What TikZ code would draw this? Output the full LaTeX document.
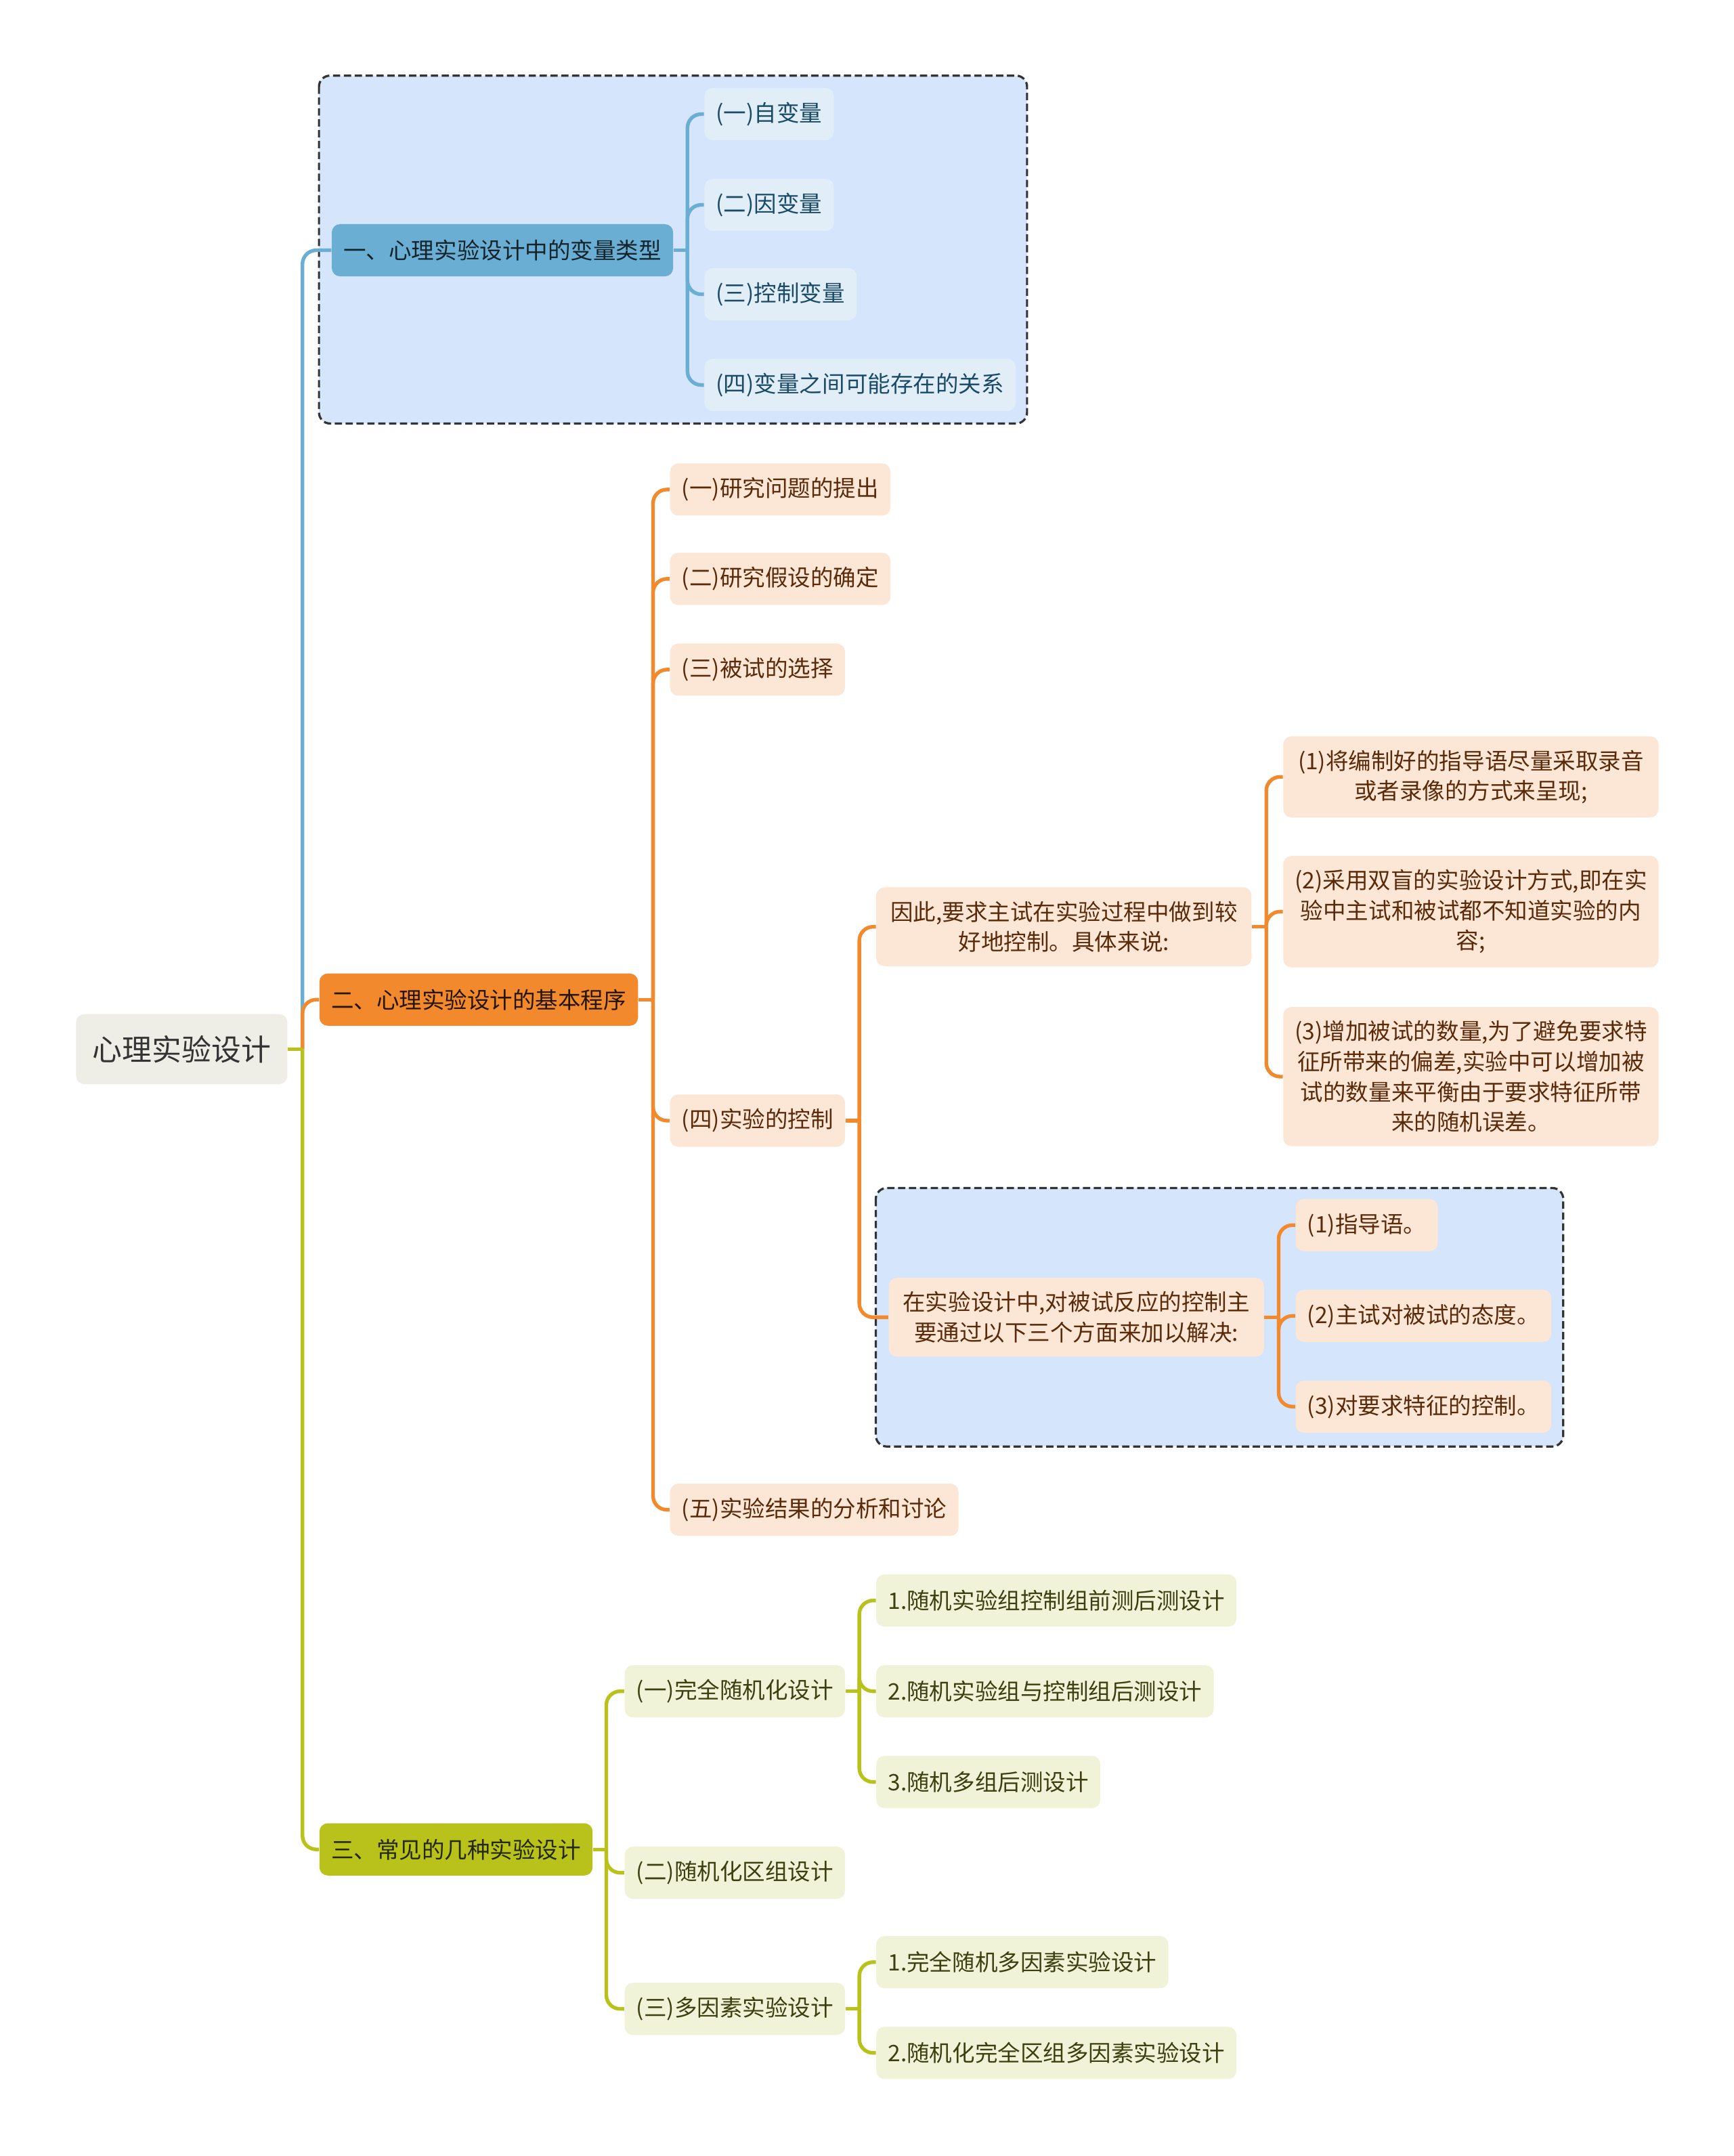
\documentclass[tikz,border=0pt]{standalone}
\usepackage{fontspec}
\setmainfont{Noto Sans CJK SC}
\usetikzlibrary{positioning}

\definecolor{bluemain}{HTML}{6AAFD3}
\definecolor{bluezone}{HTML}{D5E5FB}
\definecolor{bluefill}{HTML}{E1EEF8}
\definecolor{bluetext}{HTML}{1B4A66}
\definecolor{orangemain}{HTML}{F28A2D}
\definecolor{orangefill}{HTML}{FCE6D5}
\definecolor{orangetext}{HTML}{5A2B0B}
\definecolor{greenmain}{HTML}{B8C21B}
\definecolor{greenfill}{HTML}{F1F3D8}
\definecolor{greentext}{HTML}{3C4010}
\definecolor{rootfill}{HTML}{EEEEE6}

\begin{document}
\begin{tikzpicture}[x=0.02cm, y=-0.02cm,
  box/.style={rounded corners=0.12cm, inner xsep=0.17cm, inner ysep=0cm,
    minimum height=0.76cm, anchor=west, font=\fontsize{9.4}{12.5}\selectfont},
  rootbox/.style={box, fill=rootfill, text=black!80, inner xsep=0.24cm,
    minimum height=1.02cm, font=\fontsize{12.3}{14}\selectfont},
  bluetopic/.style={box, fill=bluemain, text=black!80!bluemain},
  orangetopic/.style={box, fill=orangemain, text=black!85!orangemain},
  greentopic/.style={box, fill=greenmain, text=black!80!greenmain},
  bluesub/.style={box, fill=bluefill, text=bluetext},
  orangesub/.style={box, fill=orangefill, text=orangetext},
  greensub/.style={box, fill=greenfill, text=greentext},
  longtext/.style={text width=5.12cm, align=center, inner ysep=0.2cm},
  zone/.style={fill=bluezone, draw=black!80, line width=0.9pt,
    dash pattern=on 3pt off 1.5pt, rounded corners=0.16cm},
  bluelink/.style={draw=bluemain, line width=1.5pt, rounded corners=0.2cm},
  orangelink/.style={draw=orangemain, line width=1.5pt, rounded corners=0.2cm},
  greenlink/.style={draw=greenmain, line width=1.5pt, rounded corners=0.2cm}]

\fill[white] (0,0) rectangle (1261,1568);

% dashed zones
\draw[zone] (232,55) rectangle (747,308);
\draw[zone] (637,864) rectangle (1137,1052);

% root and main topics
\node[rootbox] (root) at (55,763) {心理实验设计};
\node[bluetopic] (t1) at (241,182) {一、心理实验设计中的变量类型};
\node[orangetopic] (t2) at (232,727) {二、心理实验设计的基本程序};
\node[greentopic] (t3) at (232,1345) {三、常见的几种实验设计};

% variable types
\node[bluesub] (v1) at (512,83) {(一)自变量};
\node[bluesub] (v2) at (512,149) {(二)因变量};
\node[bluesub] (v3) at (512,214) {(三)控制变量};
\node[bluesub] (v4) at (512,280) {(四)变量之间可能存在的关系};

% procedure
\node[orangesub] (p1) at (487,356) {(一)研究问题的提出};
\node[orangesub] (p2) at (487,421) {(二)研究假设的确定};
\node[orangesub] (p3) at (487,487) {(三)被试的选择};
\node[orangesub] (p4) at (487,815) {(四)实验的控制};
\node[orangesub] (p5) at (487,1098) {(五)实验结果的分析和讨论};

\node[orangesub, longtext] (k1) at (637,674) {因此,要求主试在实验过程中做到较\\好地控制。具体来说:};
\node[orangesub, longtext] (k2) at (646,958) {在实验设计中,对被试反应的控制主\\要通过以下三个方面来加以解决:};

\node[orangesub, longtext] (m1) at (933,565) {(1)将编制好的指导语尽量采取录音\\或者录像的方式来呈现;};
\node[orangesub, longtext] (m2) at (933,663) {(2)采用双盲的实验设计方式,即在实\\验中主试和被试都不知道实验的内\\容;};
\node[orangesub, longtext] (m3) at (933,783) {(3)增加被试的数量,为了避免要求特\\征所带来的偏差,实验中可以增加被\\试的数量来平衡由于要求特征所带\\来的随机误差。};

\node[orangesub] (n1) at (942,891) {(1)指导语。};
\node[orangesub] (n2) at (942,957) {(2)主试对被试的态度。};
\node[orangesub] (n3) at (942,1023) {(3)对要求特征的控制。};

% common designs
\node[greensub] (d1) at (454,1230) {(一)完全随机化设计};
\node[greensub] (d2) at (454,1362) {(二)随机化区组设计};
\node[greensub] (d3) at (454,1461) {(三)多因素实验设计};

\node[greensub] (r1) at (637,1164) {1.随机实验组控制组前测后测设计};
\node[greensub] (r2) at (637,1230) {2.随机实验组与控制组后测设计};
\node[greensub] (r3) at (637,1296) {3.随机多组后测设计};
\node[greensub] (f1) at (637,1427) {1.完全随机多因素实验设计};
\node[greensub] (f2) at (637,1493) {2.随机化完全区组多因素实验设计};

% junctions
\coordinate (rootj) at (220,763);
\coordinate (t1j) at (500,182);
\coordinate (t2j) at (475,727);
\coordinate (t3j) at (441,1345);
\coordinate (p4j) at (625,815);
\coordinate (k1j) at (921,674);
\coordinate (k2j) at (930,958);
\coordinate (d1j) at (625,1230);
\coordinate (d3j) at (625,1461);

% connectors
\draw[bluelink] (rootj) |- (t1.west);
\draw[orangelink] (rootj) |- (t2.west);
\draw[greenlink] (rootj) |- (t3.west);
\draw[greenlink] (root.east) -- (rootj);

\draw[bluelink] (t1.east) -- (t1j);
\draw[bluelink] (t1j) |- (v1.west);
\draw[bluelink] (t1j) |- (v2.west);
\draw[bluelink] (t1j) |- (v3.west);
\draw[bluelink] (t1j) |- (v4.west);

\draw[orangelink] (t2.east) -- (t2j);
\draw[orangelink] (t2j) |- (p1.west);
\draw[orangelink] (t2j) |- (p2.west);
\draw[orangelink] (t2j) |- (p3.west);
\draw[orangelink] (t2j) |- (p4.west);
\draw[orangelink] (t2j) |- (p5.west);

\draw[orangelink] (p4.east) -- (p4j);
\draw[orangelink] (p4j) |- (k1.west);
\draw[orangelink] (p4j) |- (k2.west);

\draw[orangelink] (k1.east) -- (k1j);
\draw[orangelink] (k1j) |- (m1.west);
\draw[orangelink] (k1j) |- (m2.west);
\draw[orangelink] (k1j) |- (m3.west);

\draw[orangelink] (k2.east) -- (k2j);
\draw[orangelink] (k2j) |- (n1.west);
\draw[orangelink] (k2j) |- (n2.west);
\draw[orangelink] (k2j) |- (n3.west);

\draw[greenlink] (t3.east) -- (t3j);
\draw[greenlink] (t3j) |- (d1.west);
\draw[greenlink] (t3j) |- (d2.west);
\draw[greenlink] (t3j) |- (d3.west);

\draw[greenlink] (d1.east) -- (d1j);
\draw[greenlink] (d1j) |- (r1.west);
\draw[greenlink] (d1j) |- (r2.west);
\draw[greenlink] (d1j) |- (r3.west);

\draw[greenlink] (d3.east) -- (d3j);
\draw[greenlink] (d3j) |- (f1.west);
\draw[greenlink] (d3j) |- (f2.west);
\end{tikzpicture}
\end{document}
